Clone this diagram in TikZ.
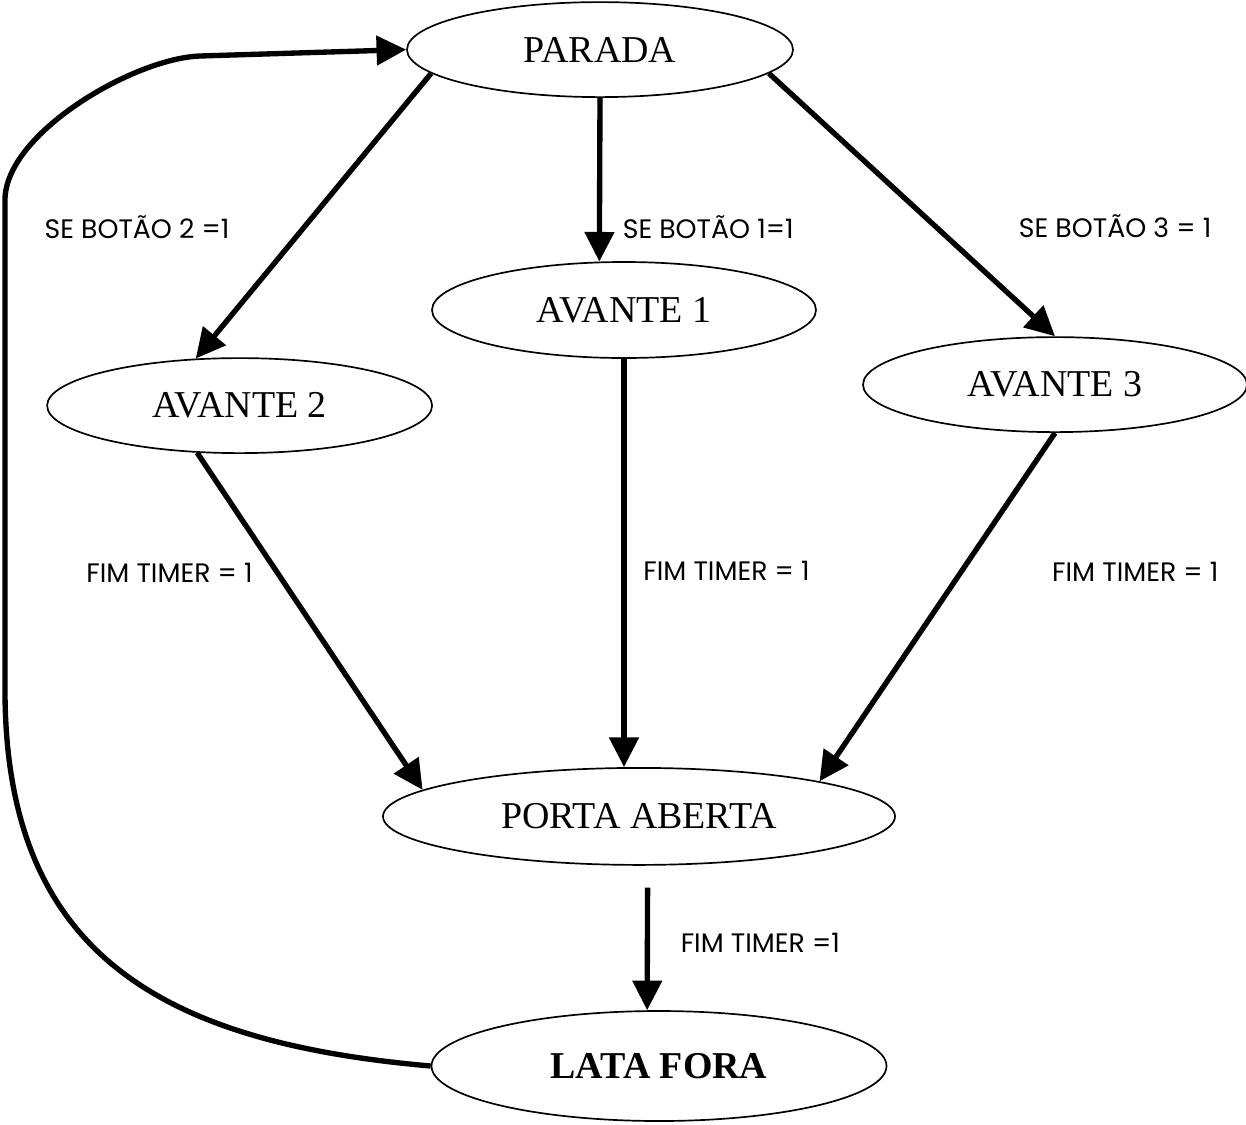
\documentclass[tikz,border=0pt]{standalone}
\usepackage{fontspec}
\setmainfont{Liberation Serif}
\newfontfamily\labelfont{Poppins}
\usetikzlibrary{shapes.geometric,positioning,arrows.meta}

\begin{document}
\begin{tikzpicture}[>={Triangle[length=0.74cm,width=0.72cm]},line width=3.8pt,line join=round,on grid]

    \tikzset{estado/.style={draw,ellipse,line width=1.2pt,inner sep=0pt,font=\fontsize{27}{31}\selectfont}}
    \tikzset{rotulo/.style={font=\labelfont\fontsize{19}{22}\selectfont}}
    \useasboundingbox (0,0) rectangle (31.15,-28.1);

    \node[estado,minimum width=9.65cm,minimum height=2.375cm] (parada) at (15.0,-1.24) {PARADA};
    \node[estado,minimum width=9.6cm,minimum height=2.4cm] (avante1) [below right = 6.51cm and 0.6cm of parada] {AVANTE 1};
    \node[estado,minimum width=9.625cm,minimum height=2.375cm] (avante2) [below left = 8.9cm and 9.01cm of parada] {AVANTE 2};
    \node[estado,minimum width=9.6cm,minimum height=2.375cm] (avante3) [below right = 8.375cm and 11.375cm of parada] {AVANTE 3};
    \node[estado,minimum width=12.8cm,minimum height=2.425cm] (porta) [below right = 12.66cm and 0.375cm of avante1] {PORTA ABERTA};
    \node[estado,minimum width=11.375cm,minimum height=2.75cm,font=\bfseries\fontsize{27}{31}\selectfont] (lata) [below right = 6.24cm and 0.5cm of porta] {LATA FORA};

    % volta da lata para a parada
    \coordinate (retorno1) at (0.125,-17.25);
    \coordinate (retorno2) at (0.125,-5.0);
    \coordinate (retorno3) at (5.0,-1.4);

    \path[->]
    (parada.188)
    edge [] node [rotulo,pos=0.54,left=1.68cm] {SE BOTÃO 2 =1} (avante2.133)
    (parada.270)
    edge [] node [rotulo,pos=0.79,right=0.4cm] {SE BOTÃO 1=1} (avante1.117)
    (parada.352)
    edge [] node [rotulo,pos=0.58,right=1.92cm] {SE BOTÃO 3 = 1} (avante3.north)
    (avante2.228)
    edge [] node [rotulo,pos=0.355,left=0.43cm] {FIM TIMER = 1} (porta.173)
    (avante1.south)
    edge [] node [rotulo,pos=0.52,right=0.3cm] {FIM TIMER = 1} (avante1.south |- porta.north)
    (avante3.south)
    edge [] node [rotulo,pos=0.4,right=2.1cm] {FIM TIMER = 1} (porta.11)
    (porta.280)
    edge [shorten <=0.55cm] node [rotulo,pos=0.536,right=0.65cm] {FIM TIMER =1} (lata.102)
    ;

    \draw[->] (lata.west) to[out=175,in=-90,looseness=1.2] (retorno1) -- (retorno2)
      to[out=90,in=182,looseness=0.7] (retorno3) -- (parada.west);
\end{tikzpicture}
\end{document}
